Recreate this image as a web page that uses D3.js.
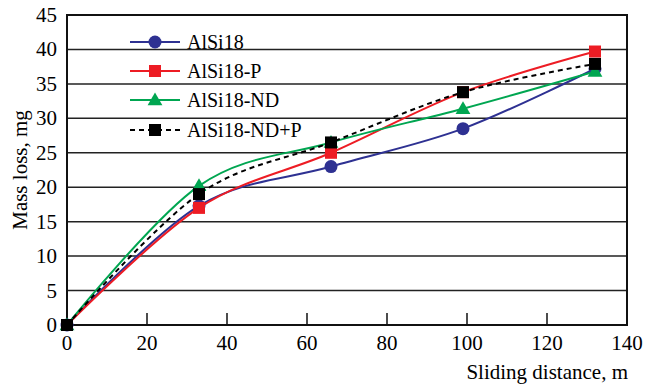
<!DOCTYPE html>
<html>
<head>
<meta charset="utf-8">
<script src="https://cdn.jsdelivr.net/npm/d3@7"></script>
</head>
<body style="margin:0">
<script>
// data
var distance = [0, 33, 66, 99, 132];
var alsi18 = [0, 17.3, 23, 28.5, 37.2];
var alsi18P = [0, 17, 25, 33.8, 39.7];
var alsi18ND = [0, 20.2, 26.5, 31.4, 36.8];
var alsi18NDP = [0, 19, 26.5, 33.8, 37.9];
var seriesNames = ["AlSi18", "AlSi18-P", "AlSi18-ND", "AlSi18-ND+P"];
var xTicks = [0, 20, 40, 60, 80, 100, 120, 140];
var yTicks = [0, 5, 10, 15, 20, 25, 30, 35, 40, 45];

var serif = "'Liberation Serif'";

var series = [
    {name: seriesNames[0], values: alsi18, color: "#2e3192", marker: "circle", dash: null},
    {name: seriesNames[1], values: alsi18P, color: "#ed1c24", marker: "square", dash: null},
    {name: seriesNames[2], values: alsi18ND, color: "#00a651", marker: "triangle", dash: null},
    {name: seriesNames[3], values: alsi18NDP, color: "#000000", marker: "square", dash: "5,4"}
];

var svg = d3.select("body")
    .append("svg")
    .attr("width", 645)
    .attr("height", 386);

var x = d3.scaleLinear().domain([0, 140]).range([67, 627]);
var y = d3.scaleLinear().domain([0, 45]).range([325, 15]);

// gridlines
svg.selectAll(".grid")
    .data(yTicks.slice(1, -1))
    .enter().append("line")
    .attr("x1", x(0)).attr("x2", x(140))
    .attr("y1", function (d) { return y(d); })
    .attr("y2", function (d) { return y(d); })
    .attr("stroke", "#222")
    .attr("stroke-width", 1.5);

// inward x ticks
svg.selectAll(".xtick")
    .data(xTicks.slice(1, -1))
    .enter().append("line")
    .attr("x1", function (d) { return x(d); })
    .attr("x2", function (d) { return x(d); })
    .attr("y1", y(0)).attr("y2", y(0) - 12)
    .attr("stroke", "#111")
    .attr("stroke-width", 1.5);

// frame
svg.append("rect")
    .attr("x", x(0)).attr("y", y(45))
    .attr("width", x(140) - x(0))
    .attr("height", y(0) - y(45))
    .attr("fill", "none")
    .attr("stroke", "#111")
    .attr("stroke-width", 2);

// tick labels
svg.selectAll(".ylab")
    .data(yTicks)
    .enter().append("text")
    .attr("x", 57)
    .attr("y", function (d) { return y(d) + 7; })
    .attr("text-anchor", "end")
    .style("font-family", serif)
    .style("font-size", "21px")
    .text(function (d) { return d; });

svg.selectAll(".xlab")
    .data(xTicks)
    .enter().append("text")
    .attr("x", function (d) { return x(d); })
    .attr("y", 350)
    .attr("text-anchor", "middle")
    .style("font-family", serif)
    .style("font-size", "21px")
    .text(function (d) { return d; });

svg.append("text")
    .attr("x", 628).attr("y", 379)
    .attr("text-anchor", "end")
    .style("font-family", serif)
    .style("font-size", "21px")
    .text("Sliding distance, m");

svg.append("text")
    .attr("transform", "translate(27,170) rotate(-90)")
    .attr("text-anchor", "middle")
    .style("font-family", serif)
    .style("font-size", "21px")
    .text("Mass loss, mg");

var line = d3.line()
    .x(function (d) { return x(d[0]); })
    .y(function (d) { return y(d[1]); })
    .curve(d3.curveCatmullRom.alpha(0));

function drawMarker(g, type, color, cx, cy) {
    if (type === "circle") {
        g.append("circle").attr("cx", cx).attr("cy", cy).attr("r", 6.5).attr("fill", color);
    } else if (type === "square") {
        g.append("rect").attr("x", cx - 6).attr("y", cy - 6).attr("width", 12).attr("height", 12).attr("fill", color);
    } else {
        g.append("path")
            .attr("d", d3.symbol().type(d3.symbolTriangle).size(95)())
            .attr("transform", "translate(" + cx + "," + (cy + 1) + ")")
            .attr("fill", color);
    }
}

series.forEach(function (s) {
    var pts = distance.map(function (d, i) { return [d, s.values[i]]; });
    svg.append("path")
        .attr("d", line(pts))
        .attr("fill", "none")
        .attr("stroke", s.color)
        .attr("stroke-width", 2)
        .attr("stroke-dasharray", s.dash);
});

series.forEach(function (s) {
    var g = svg.append("g");
    distance.forEach(function (d, i) {
        drawMarker(g, s.marker, s.color, x(d), y(s.values[i]));
    });
});

// legend
var legendY = [42, 71, 100, 130];
series.forEach(function (s, i) {
    var g = svg.append("g");
    g.append("line")
        .attr("x1", 130).attr("x2", 180)
        .attr("y1", legendY[i]).attr("y2", legendY[i])
        .attr("stroke", s.color)
        .attr("stroke-width", 2)
        .attr("stroke-dasharray", s.dash);
    drawMarker(g, s.marker, s.color, 155, legendY[i]);
    g.append("text")
        .attr("x", 187).attr("y", legendY[i] + 7)
        .style("font-family", serif)
        .style("font-size", "20px")
        .text(s.name);
});
</script>
</body>
</html>
